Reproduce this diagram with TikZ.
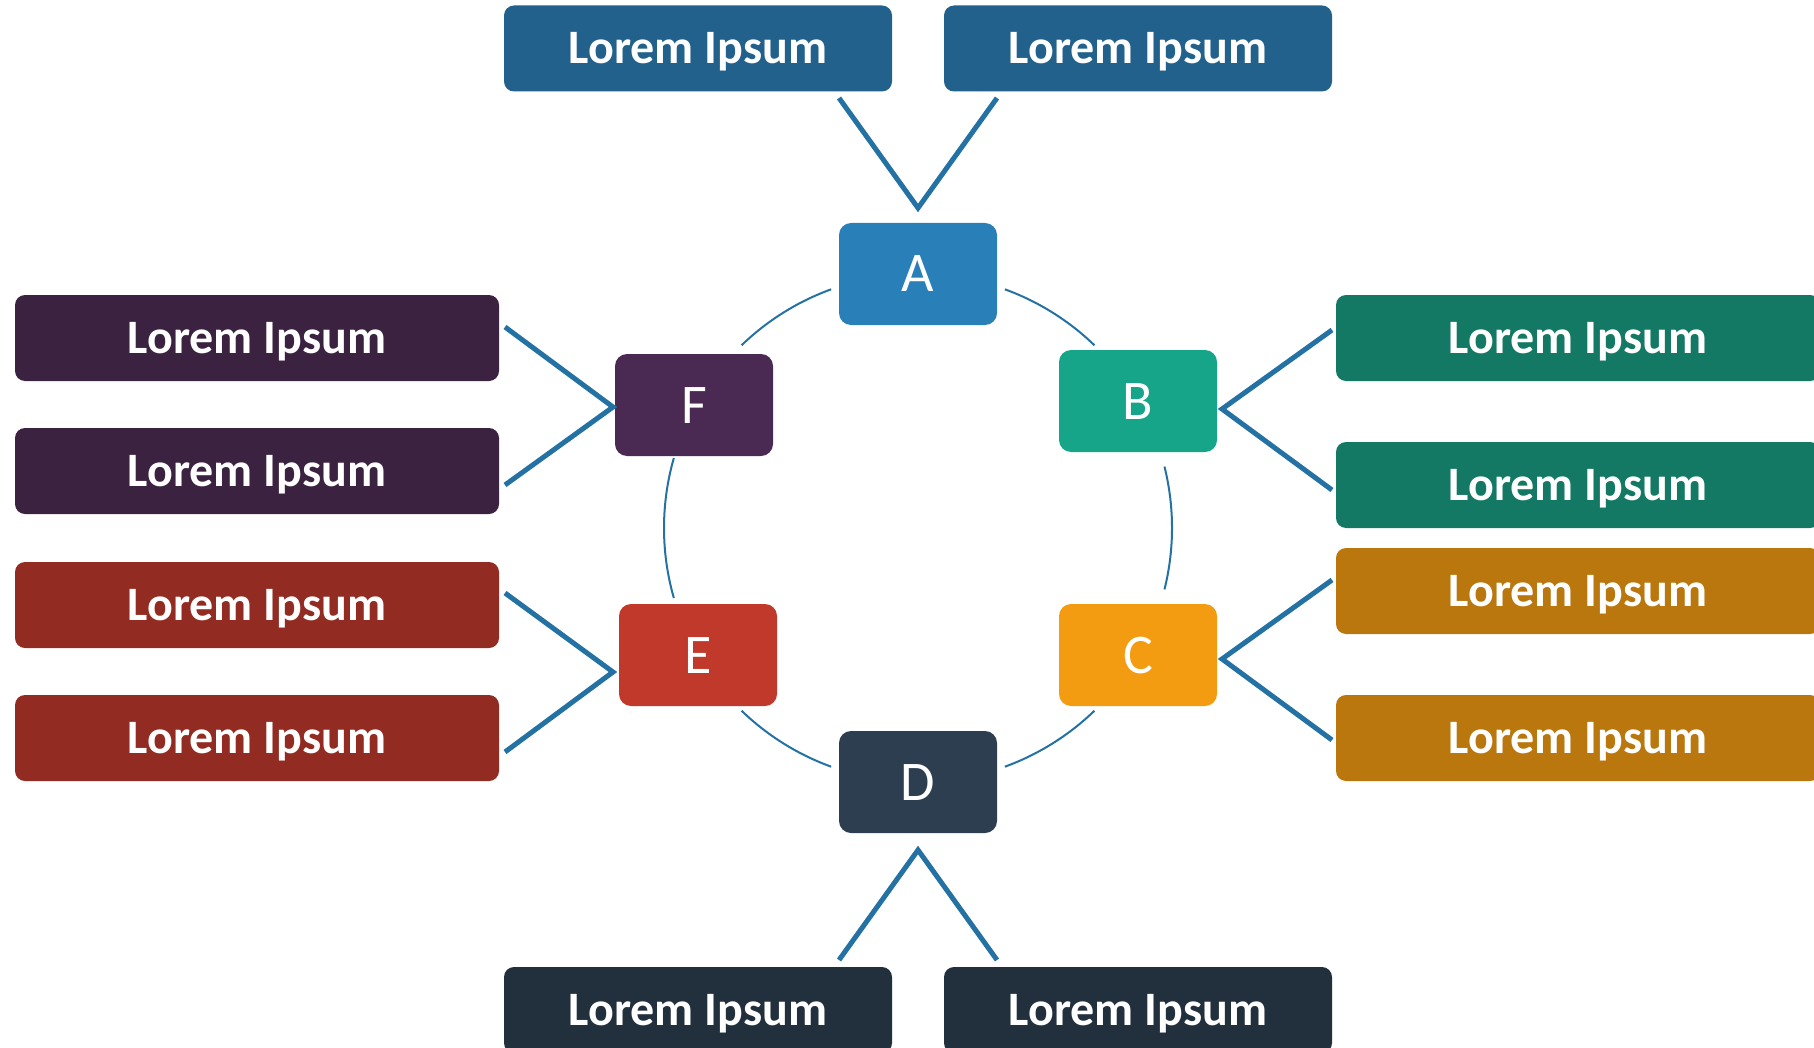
\documentclass[tikz,border=0pt]{standalone}
\usepackage{fontspec}
\setmainfont{Carlito}
\definecolor{topc}{HTML}{21618C}
\definecolor{Acol}{HTML}{2980B9}
\definecolor{Bcol}{HTML}{17A589}
\definecolor{Ccol}{HTML}{F39C12}
\definecolor{Dcol}{HTML}{2C3E50}
\definecolor{Ecol}{HTML}{C0392B}
\definecolor{Fcol}{HTML}{4A2A52}
\definecolor{Blab}{HTML}{147964}
\definecolor{Clab}{HTML}{B9770E}
\definecolor{Dlab}{HTML}{222F3D}
\definecolor{Elab}{HTML}{922B21}
\definecolor{Flab}{HTML}{3B2240}
\definecolor{linec}{HTML}{2471A3}
\begin{document}
\begin{tikzpicture}[x=0.5pt,y=-0.5pt,
  lbl/.style={rounded corners=5pt, minimum height=43pt, inner sep=0pt, text=white,
    text height=15.4pt, text depth=0pt,
    font=\fontsize{24}{28}\selectfont\bfseries},
  widelbl/.style={lbl, minimum width=242pt},
  narrowlbl/.style={lbl, minimum width=194pt},
  letterbox/.style={rounded corners=6pt, minimum width=79pt, minimum height=51pt, inner sep=0pt,
    text=white, text height=18pt, text depth=0pt, font=\fontsize{28}{34}\selectfont},
  conn/.style={draw=linec, line width=2.5pt},
  ring/.style={draw=linec, line width=1pt}]
\useasboundingbox (0,0) rectangle (1814,1048);
\clip (0,0) rectangle (1814,1048);
% letter boxes
\node[letterbox, fill=Acol] (A) at (918,274) {A};
\node[letterbox, fill=Bcol] (B) at (1138,401) {B};
\node[letterbox, fill=Ccol] (C) at (1138,655) {C};
\node[letterbox, fill=Dcol] (D) at (918,782) {D};
\node[letterbox, fill=Ecol] (E) at (698,655) {E};
\node[letterbox, fill=Fcol] (F) at (694,405) {F};
% label boxes
\node[narrowlbl, fill=topc] (A1) at (698,48.5) {Lorem Ipsum};
\node[narrowlbl, fill=topc] (A2) at (1138,48.5) {Lorem Ipsum};
\node[narrowlbl, fill=Dlab] (D1) at (698,1010) {Lorem Ipsum};
\node[narrowlbl, fill=Dlab] (D2) at (1138,1010) {Lorem Ipsum};
\node[widelbl, fill=Flab] (F1) at (257,338) {Lorem Ipsum};
\node[widelbl, fill=Flab] (F2) at (257,471) {Lorem Ipsum};
\node[widelbl, fill=Elab] (E1) at (257,605) {Lorem Ipsum};
\node[widelbl, fill=Elab] (E2) at (257,738) {Lorem Ipsum};
\node[widelbl, fill=Blab] (B1) at (1578,338) {Lorem Ipsum};
\node[widelbl, fill=Blab] (B2) at (1578,485) {Lorem Ipsum};
\node[widelbl, fill=Clab] (C1) at (1578,591) {Lorem Ipsum};
\node[widelbl, fill=Clab] (C2) at (1578,738) {Lorem Ipsum};
% connector apexes and ends
\coordinate (Aap) at (918,208);
\coordinate (A1e) at (839,98);
\coordinate (A2e) at (997,98);
\coordinate (Dap) at (918,850);
\coordinate (D1e) at (839,960);
\coordinate (D2e) at (997,960);
\coordinate (Bap) at (1222,409);
\coordinate (B1e) at (1332,330);
\coordinate (B2e) at (1332,490);
\coordinate (Cap) at (1222,659);
\coordinate (C1e) at (1332,580);
\coordinate (C2e) at (1332,740);
\coordinate (Fap) at (613,407);
\coordinate (F1e) at (505,327);
\coordinate (F2e) at (505,485);
\coordinate (Eap) at (613,672);
\coordinate (E1e) at (505,593);
\coordinate (E2e) at (505,752);
\draw[conn] (A1e) -- (Aap) -- (A2e);
\draw[conn] (D1e) -- (Dap) -- (D2e);
\draw[conn] (B1e) -- (Bap) -- (B2e);
\draw[conn] (C1e) -- (Cap) -- (C2e);
\draw[conn] (F1e) -- (Fap) -- (F2e);
\draw[conn] (E1e) -- (Eap) -- (E2e);
% ring arcs
\coordinate (O) at (918,528);
\foreach \s/\e in {-70/-46, -134/-110, -196/-164, -250/-226, -314/-290, -14/14}{
  \draw[ring] ([shift={(O)}]\s:254) arc[start angle=\s, end angle=\e, radius=254];
}
\end{tikzpicture}
\end{document}
